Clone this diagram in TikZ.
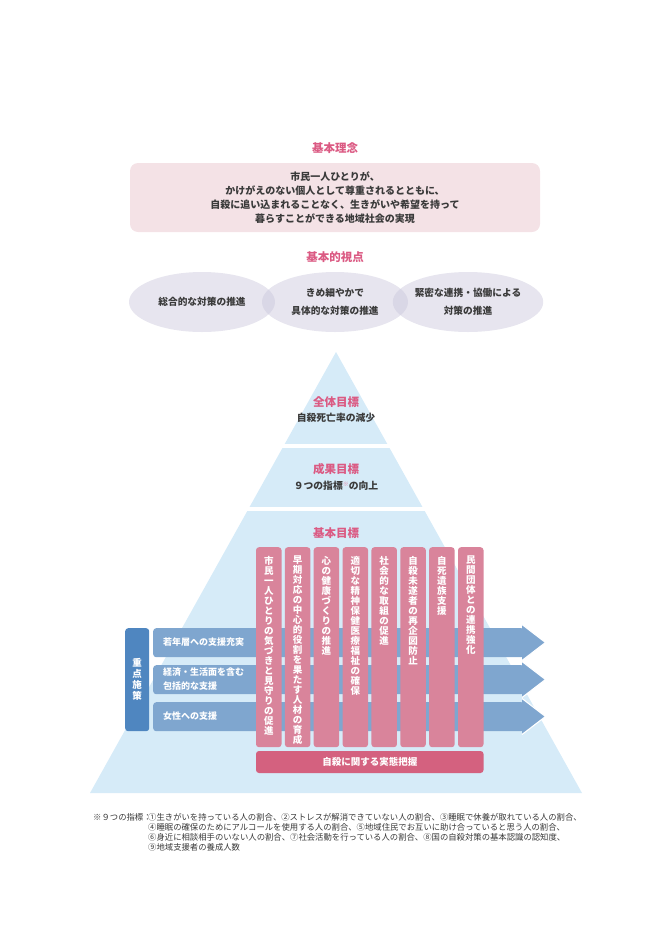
\documentclass[tikz,border=0pt]{standalone}
\usepackage{fontspec}
\setmainfont{Noto Sans CJK JP}
\usetikzlibrary{shapes.geometric}
\definecolor{headpink}{HTML}{DB5A83}
\definecolor{boxpink}{HTML}{F4E2E6}
\definecolor{txt}{HTML}{3A3A3A}
\definecolor{foottxt}{HTML}{383838}
\definecolor{ellc}{HTML}{C8C4DA}
\definecolor{pyr}{HTML}{D6EBF8}
\definecolor{colpink}{HTML}{D9849B}
\definecolor{barpink}{HTML}{D4617F}
\definecolor{bluedark}{HTML}{4F86C0}
\definecolor{blueband}{HTML}{7FA6CF}
\makeatletter
\newcommand\tate[2]{\vtop{\baselineskip=#1\lineskip=0pt\lineskiplimit=-100pt\@tfor\tatec:=#2\do{\hbox to 1em{\hss\tatec\hss}}}}
\makeatother
\begin{document}
\begin{tikzpicture}[x=1pt,y=-1pt,
  head/.style={text=headpink,font=\fontsize{11.5}{13}\selectfont\bfseries,inner sep=0},
  bodytxt/.style={text=txt,font=\fontsize{9.8}{13}\selectfont\bfseries,inner sep=0},
  pbox/.style={fill=boxpink,rounded corners=8pt,minimum width=410pt,minimum height=69pt,align=center,
    text=txt,font=\fontsize{10}{14}\selectfont\bfseries},
  ell/.style={ellipse,minimum width=146pt,minimum height=60pt,inner sep=0,fill=ellc,fill opacity=0.44,
    text opacity=1,text=txt,align=center,font=\fontsize{9.7}{17.5}\selectfont\bfseries},
  band/.style={anchor=north west,minimum width=371pt,minimum height=29pt,fill=blueband,rounded corners=3pt,inner sep=0},
  blabel/.style={anchor=west,text=white,font=\fontsize{9}{14}\selectfont\bfseries,inner sep=0,align=left},
  colbox/.style={anchor=north,fill=colpink,rounded corners=3pt,minimum width=25.5pt,minimum height=200pt,inner sep=0},
  coltxt/.style={anchor=north,text=white,font=\fontsize{9.5}{10}\selectfont\bfseries,inner sep=0},
  foot/.style={text=foottxt,font=\fontsize{8.35}{10.2}\selectfont,inner sep=0,anchor=north west,align=left}
]
\useasboundingbox (0,0) rectangle (670,948);

% basic philosophy
\node[head] (h1) at (335,148) {基本理念};
\node[pbox] (philo) at (335,197.5) {市民一人ひとりが、\\かけがえのない個人として尊重されるとともに、\\自殺に追い込まれることなく、生きがいや希望を持って\\暮らすことができる地域社会の実現};

% basic viewpoints
\node[head] (h2) at (335,257) {基本的視点};
\node[ell] (e1) at (202,302) {総合的な対策の推進};
\node[ell] (e2) at (335,302) {きめ細やかで\\具体的な対策の推進};
\node[ell] (e3) at (468,302) {緊密な連携・協働による\\対策の推進};

% pyramid
\fill[pyr] (336,352) -- (582,793) -- (90,793) -- cycle;
\fill[white] (60,444) rectangle (610,447.5);
\fill[white] (60,507) rectangle (610,510.5);

\node[head] (g1) at (336,402) {全体目標};
\node[bodytxt] (g1t) at (336,418) {自殺死亡率の減少};
\node[head] (g2) at (336,469) {成果目標};
\node[bodytxt] (g2t) at (336,486) {９つの指標\raisebox{3.5pt}{\fontsize{6}{6}\selectfont\mdseries\color{headpink!80}※}の向上};
\node[head] (g3) at (336,533) {基本目標};

% blue bands with arrow heads
\foreach \t [count=\i] in {628,665,702} {
  \node[band] (band\i) at (153,\t) {};
  \fill[blueband] (522,\t-3.5) -- (545.5,\t+14.5) -- (522,\t+32.5) -- cycle;
  \draw[white,line width=1.1pt] (522,\t-3.5) -- (545.5,\t+14.5) -- (522,\t+32.5);
}
\node[blabel] (l1) at (163,642.5) {若年層への支援充実};
\node[blabel] (l2) at (163,679.5) {経済・生活面を含む\\包括的な支援};
\node[blabel] (l3) at (163,716.5) {女性への支援};

% key measures
\node[anchor=north west,fill=bluedark,rounded corners=3pt,minimum width=24pt,minimum height=103pt,inner sep=0] (key) at (125,628) {};
\node[text=white,font=\fontsize{9.5}{11}\selectfont\bfseries,inner sep=0] (keyt) at (key.center) {\tate{11pt}{重点施策}};

% pink columns
\node[colbox] (c1) at (268.75,547) {};
\node[colbox] (c2) at (297.61,547) {};
\node[colbox] (c3) at (326.46,547) {};
\node[colbox] (c4) at (355.32,547) {};
\node[colbox] (c5) at (384.18,547) {};
\node[colbox] (c6) at (413.04,547) {};
\node[colbox] (c7) at (441.89,547) {};
\node[colbox] (c8) at (470.75,547) {};
\node[coltxt] (t1) at ([yshift=-9pt]c1.north) {\tate{10pt}{市民一人ひとりの気づきと見守りの促進}};
\node[coltxt] (t2) at ([yshift=-9pt]c2.north) {\tate{10pt}{早期対応の中心的役割を果たす人材の育成}};
\node[coltxt] (t3) at ([yshift=-9pt]c3.north) {\tate{10pt}{心の健康づくりの推進}};
\node[coltxt] (t4) at ([yshift=-9pt]c4.north) {\tate{10pt}{適切な精神保健医療福祉の確保}};
\node[coltxt] (t5) at ([yshift=-9pt]c5.north) {\tate{10pt}{社会的な取組の促進}};
\node[coltxt] (t6) at ([yshift=-9pt]c6.north) {\tate{10pt}{自殺未遂者の再企図防止}};
\node[coltxt] (t7) at ([yshift=-9pt]c7.north) {\tate{10pt}{自死遺族支援}};
\node[coltxt] (t8) at ([yshift=-9pt]c8.north) {\tate{10pt}{民間団体との連携強化}};

\node[fill=barpink,rounded corners=3pt,minimum width=227.5pt,minimum height=22pt,inner sep=0,text=white,
  font=\fontsize{9.5}{11}\selectfont\bfseries] (survey) at (369.75,762) {自殺に関する実態把握};

% footnote
\node[foot] (fnl) at (93,813) {※９つの指標：};
\node[foot] (fnb) at (148,813) {①生きがいを持っている人の割合、②ストレスが解消できていない人の割合、③睡眠で休養が取れている人の割合、\\④睡眠の確保のためにアルコールを使用する人の割合、⑤地域住民でお互いに助け合っていると思う人の割合、\\⑥身近に相談相手のいない人の割合、⑦社会活動を行っている人の割合、⑧国の自殺対策の基本認識の認知度、\\⑨地域支援者の養成人数};
\end{tikzpicture}
\end{document}
